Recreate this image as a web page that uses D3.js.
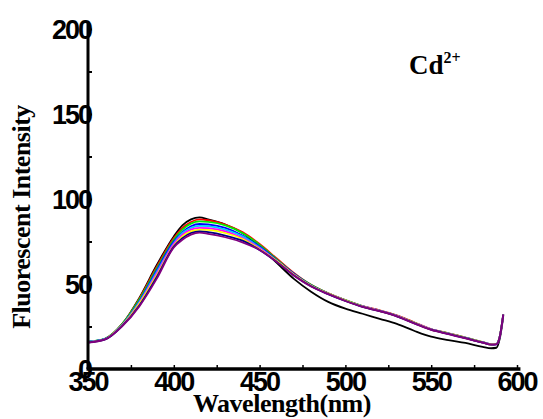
<!DOCTYPE html>
<html>
<head>
<meta charset="utf-8">
<script src="https://cdn.jsdelivr.net/npm/d3@7"></script>
<style>
  body { margin: 0; background: #fff; }
  .tick-label { font-family: "Liberation Sans", Arial, sans-serif; font-weight: bold; font-size: 27px; letter-spacing: -2px; }
  .title { font-family: "Liberation Serif", "Times New Roman", serif; font-weight: bold; }
</style>
</head>
<body>
<div id="chart"></div>
<script>
const width = 543;
const height = 419;

// wavelengths (nm)
const wavelengths = [350, 360, 370, 380, 390, 400, 405, 410, 415, 420, 430, 440, 450, 460, 470,
    480, 490, 500, 510, 520, 530, 540, 550, 560, 570, 580, 585, 588, 590, 592];

const seriesColors = ["#000000", "#ff0000", "#00ee00", "#0000ff", "#00ccff", "#ff00ff", "#ffff00", "#000080", "#800080"];

const black = [16, 17.8, 26.5, 42, 61, 78, 84.5, 88, 89.2, 88, 85, 80, 72, 62.5, 53,
    45.5, 39.5, 35.5, 32.5, 29.5, 26.5, 22.5, 19, 17, 15.3, 13, 12.2, 12.5, 18, 31];
const red = [16, 17.8, 26.5, 41.5, 60, 77, 83, 86.5, 88, 87.5, 85, 80.5, 73.5, 65, 56.5,
    49.5, 44.5, 40.5, 37, 34.5, 31.5, 27.5, 23.5, 21, 18.5, 15.8, 14.6, 14.8, 19.5, 32];
const green = [16, 17.9, 26.5, 41, 59, 76, 82, 85.5, 86.8, 86.5, 84.5, 80, 73, 64.5, 56,
    49.5, 44.5, 40.5, 37, 34.3, 31.3, 27.3, 23.3, 21, 18.5, 15.8, 14.6, 14.8, 19.5, 32];
const blue = [16, 17.7, 26, 40, 58, 75, 80.5, 84, 85.3, 85, 83, 78.5, 72, 64, 56,
    49.2, 44.3, 40.3, 36.8, 34.2, 31.2, 27.2, 23.3, 20.8, 18.3, 15.6, 14.5, 14.7, 19.3, 32];
const cyan = [16, 17.7, 26, 39.5, 57, 74, 80, 83, 84.2, 84, 82, 78, 71.5, 63.5, 55.5,
    49, 44.2, 40.2, 36.8, 34.2, 31.2, 27.2, 23.3, 20.8, 18.3, 15.6, 14.5, 14.7, 19.3, 32];
const magenta = [15.8, 17.6, 25.8, 39, 56, 73.5, 79, 82, 83, 82.8, 81, 77, 71, 63.5, 55.5,
    49, 44.3, 40.3, 36.8, 34.2, 31.2, 27.2, 23.3, 20.8, 18.3, 15.6, 14.5, 14.7, 19.3, 32];
const yellow = [15.8, 17.5, 25.6, 38.5, 55, 72.5, 78, 81, 82, 81.8, 80, 76.5, 70.5, 63.5, 55.5,
    49, 44.3, 40.2, 36.7, 34.1, 31.1, 27.1, 23.2, 20.7, 18.2, 15.5, 14.4, 14.6, 19.2, 32];
const navy = [15.6, 17.4, 25.4, 37.5, 54, 72, 77, 80, 81, 80.5, 78.5, 75.5, 70, 63, 55,
    48.7, 44, 40, 36.6, 34, 31, 27, 23.1, 20.6, 18.1, 15.5, 14.3, 14.5, 19, 32];
const purple = [15.5, 17.4, 25.2, 37, 53, 71.5, 76, 79, 80.2, 79.5, 77.5, 74.5, 70, 63, 55,
    48.5, 44, 40, 36.5, 34, 31, 26.8, 23, 20.5, 18, 15.5, 14.3, 14.5, 19, 32];

const allSeries = [black, red, green, blue, cyan, magenta, yellow, navy, purple];

const xTicks = [350, 400, 450, 500, 550, 600];
const yTicks = [0, 50, 100, 150, 200];

const svg = d3.select("#chart")
    .append("svg")
    .attr("width", width)
    .attr("height", height);

const x = d3.scaleLinear().domain([350, 600]).range([88, 517]);
const y = d3.scaleLinear().domain([0, 200]).range([369, 29]);

const line = d3.line()
    .x((d, i) => x(wavelengths[i]))
    .y(d => y(d))
    .curve(d3.curveMonotoneX);

// black first, purple drawn last (on top)
svg.append("g")
    .selectAll("path")
    .data(allSeries)
    .join("path")
    .attr("d", d => line(d))
    .attr("fill", "none")
    .attr("stroke", (d, i) => seriesColors[i])
    .attr("stroke-width", 1.8);

// minor ticks, pointing inward
const xAxis = svg.append("g").attr("transform", `translate(0,${y(0)})`)
    .call(d3.axisBottom(x).tickValues(d3.range(350, 601, 25)).tickSize(-4).tickFormat(""));
xAxis.select(".domain").remove();
xAxis.selectAll(".tick line").attr("stroke", "#000").attr("stroke-width", 1.5);

const yAxis = svg.append("g").attr("transform", `translate(${x(350)},0)`)
    .call(d3.axisLeft(y).tickValues(d3.range(0, 201, 25)).tickSize(-4).tickFormat(""));
yAxis.select(".domain").remove();
yAxis.selectAll(".tick line").attr("stroke", "#000").attr("stroke-width", 2);

svg.append("line")
    .attr("x1", x(350) - 1.5).attr("x2", x(602))
    .attr("y1", y(0)).attr("y2", y(0))
    .attr("stroke", "#000").attr("stroke-width", 3.5);
svg.append("line")
    .attr("x1", x(350)).attr("x2", x(350))
    .attr("y1", y(0)).attr("y2", y(204))
    .attr("stroke", "#000").attr("stroke-width", 3);

// tick labels
svg.append("g").selectAll("text")
    .data(xTicks)
    .join("text")
    .attr("class", "tick-label")
    .attr("x", d => x(d))
    .attr("y", 391)
    .attr("text-anchor", "middle")
    .text(d => d);

svg.append("g").selectAll("text")
    .data(yTicks)
    .join("text")
    .attr("class", "tick-label")
    .attr("x", 91)
    .attr("y", d => y(d) + 10)
    .attr("text-anchor", "end")
    .text(d => d);

// axis titles
svg.append("text")
    .attr("class", "title")
    .attr("x", 282)
    .attr("y", 412)
    .attr("text-anchor", "middle")
    .attr("font-size", 26)
    .attr("letter-spacing", -0.5)
    .text("Wavelength(nm)");

svg.append("text")
    .attr("class", "title")
    .attr("transform", "translate(30,217) rotate(-90)")
    .attr("text-anchor", "middle")
    .attr("font-size", 26)
    .attr("letter-spacing", -0.5)
    .text("Fluorescent Intensity");

const label = svg.append("text")
    .attr("class", "title")
    .attr("x", 409)
    .attr("y", 74)
    .attr("font-size", 27);
label.append("tspan").text("Cd");
label.append("tspan").attr("dy", -11).attr("font-size", 16).text("2+");
</script>
</body>
</html>
